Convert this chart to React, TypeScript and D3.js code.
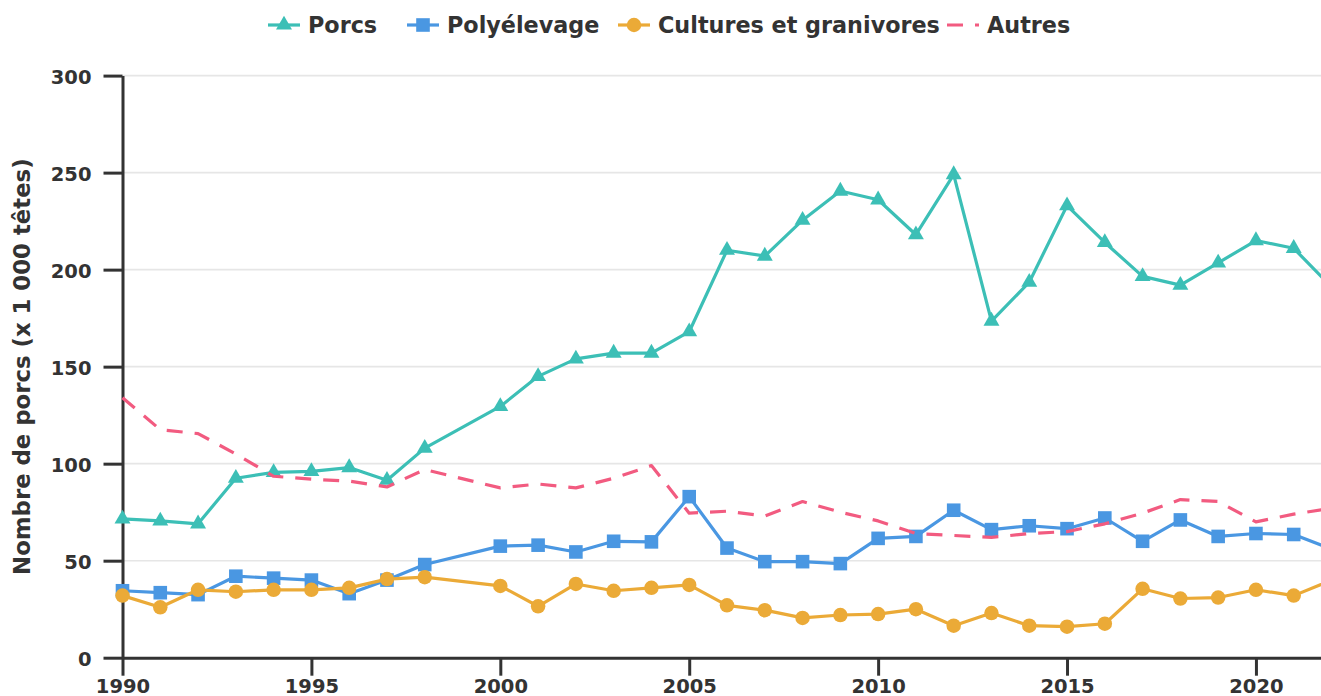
import React, { useEffect, useRef } from 'react';
import * as d3 from 'd3';

// data (1999 has no value)
const years = [
  1990, 1991, 1992, 1993, 1994, 1995, 1996, 1997, 1998,
  2000, 2001, 2002, 2003, 2004, 2005, 2006, 2007, 2008, 2009, 2010, 2011,
  2012, 2013, 2014, 2015, 2016, 2017, 2018, 2019, 2020, 2021, 2022,
];
const porcs = [
  71.5, 70.5, 69, 92.5, 95.5, 96, 98, 91.5, 108,
  129.5, 145, 154, 157, 157, 168, 210, 207, 225.5, 240.5, 236, 218,
  249, 173.5, 193.5, 233, 214, 196.5, 192, 203.5, 215, 211, 191,
];
const polyelevage = [
  34.5, 33.5, 32.5, 42, 41, 40, 33, 40, 48,
  57.5, 58, 54.5, 60, 59.7, 83, 56.5, 49.5, 49.5, 48.5, 61.5, 62.5,
  76, 66, 68, 66.5, 72, 60, 71, 62.5, 64, 63.5, 56,
];
const cultures = [
  32, 26, 35, 34, 35, 35, 36, 40.5, 41.5,
  37, 26.5, 38, 34.5, 36, 37.5, 27, 24.5, 20.5, 22, 22.5, 25,
  16.5, 23, 16.5, 16, 17.5, 35.5, 30.5, 31, 35, 32, 40,
];
const autres = [
  134, 117.5, 115.5, 105, 93.5, 92, 91, 88, 97,
  87.5, 89.5, 87.5, 92.5, 99, 74.5, 75.5, 73, 80.5, 75, 70.5, 64,
  63, 62, 64, 65, 69, 74.5, 81.5, 80.5, 70, 74, 77,
];
const seriesNames = ['Porcs', 'Polyélevage', 'Cultures et granivores', 'Autres'];
const yTicks = [0, 50, 100, 150, 200, 250, 300];
const xTicks = [1990, 1995, 2000, 2005, 2010, 2015, 2020];

const W = 1321;
const H = 696;
const FONT = '"DejaVu Sans", sans-serif';
const TEXT = '#333';

const App = () => {
  const svgRef = useRef<SVGSVGElement>(null);

  useEffect(() => {
    const svg = d3.select(svgRef.current);
    svg.selectAll('*').remove();

    const series = [
      { name: seriesNames[0], values: porcs, color: '#3cbfb6', symbol: d3.symbolTriangle, size: 110, dash: null },
      { name: seriesNames[1], values: polyelevage, color: '#4a97e2', symbol: d3.symbolSquare, size: 185, dash: null },
      { name: seriesNames[2], values: cultures, color: '#ebaa37', symbol: d3.symbolCircle, size: 165, dash: null },
      { name: seriesNames[3], values: autres, color: '#f25b80', symbol: null, size: 0, dash: '16,12' },
    ];

    const x = d3.scaleLinear().domain([1990, 2022]).range([122.5, 1331.5]);
    const y = d3.scaleLinear().domain([0, 300]).range([657.7, 75.6]);

    // gridlines
    svg.append('g')
      .selectAll('line')
      .data(yTicks.slice(1))
      .enter()
      .append('line')
      .attr('x1', x(1990))
      .attr('x2', W)
      .attr('y1', d => y(d))
      .attr('y2', d => y(d))
      .attr('stroke', '#e6e6e6')
      .attr('stroke-width', 1.6);

    // y axis
    const yAxis = svg.append('g').attr('transform', `translate(${x(1990)},0)`)
      .call(d3.axisLeft(y).tickValues(yTicks).tickSize(19).tickPadding(12).tickSizeOuter(0));
    yAxis.select('.domain').attr('stroke', TEXT).attr('stroke-width', 3);
    yAxis.selectAll('.tick line').attr('stroke', TEXT).attr('stroke-width', 3);
    yAxis.selectAll('.tick text')
      .attr('fill', TEXT)
      .attr('dy', '0.42em')
      .style('font-family', FONT)
      .style('font-weight', 'bold')
      .style('font-size', '19.5px');

    // x axis
    const xAxis = svg.append('g').attr('transform', `translate(0,${y(0)})`)
      .call(d3.axisBottom(x).tickValues(xTicks).tickFormat(d3.format('d')).tickSize(18).tickPadding(3).tickSizeOuter(0));
    xAxis.select('.domain').attr('stroke', TEXT).attr('stroke-width', 3);
    xAxis.selectAll('.tick line').attr('stroke', TEXT).attr('stroke-width', 3);
    xAxis.selectAll('.tick text')
      .attr('fill', TEXT)
      .style('font-family', FONT)
      .style('font-weight', 'bold')
      .style('font-size', '19.5px');

    // y axis title
    svg.append('text')
      .attr('transform', `translate(30,${(y(0) + y(300)) / 2}) rotate(-90)`)
      .attr('text-anchor', 'middle')
      .attr('fill', TEXT)
      .style('font-family', FONT)
      .style('font-weight', 'bold')
      .style('font-size', '22.8px')
      .text('Nombre de porcs (x 1 000 têtes)');

    // series
    series.forEach(s => {
      const pts = years.map((yr, i) => [yr, s.values[i]] as [number, number]);
      const line = d3.line<[number, number]>().x(d => x(d[0])).y(d => y(d[1]));
      const path = svg.append('path')
        .datum(pts)
        .attr('d', line)
        .attr('fill', 'none')
        .attr('stroke', s.color)
        .attr('stroke-width', 3.2)
        .attr('stroke-linejoin', 'round');
      if (s.dash) path.attr('stroke-dasharray', s.dash);
      if (s.symbol) {
        svg.append('g')
          .selectAll('path')
          .data(pts)
          .enter()
          .append('path')
          .attr('transform', d => `translate(${x(d[0])},${y(d[1])})`)
          .attr('d', d3.symbol().type(s.symbol).size(s.size))
          .attr('fill', s.color);
      }
    });

    // legend
    const legendX = [268, 407, 618, 947];
    const legendY = 25;
    const legend = svg.append('g');
    series.forEach((s, i) => {
      const g = legend.append('g').attr('transform', `translate(${legendX[i]},${legendY})`);
      const ln = g.append('line')
        .attr('x1', 0).attr('x2', 32)
        .attr('stroke', s.color)
        .attr('stroke-width', 3.2);
      if (s.dash) ln.attr('stroke-dasharray', s.dash);
      if (s.symbol) {
        g.append('path')
          .attr('transform', 'translate(16,0)')
          .attr('d', d3.symbol().type(s.symbol).size(s.size))
          .attr('fill', s.color);
      }
      g.append('text')
        .attr('x', 40)
        .attr('dy', '0.36em')
        .attr('fill', TEXT)
        .style('font-family', FONT)
        .style('font-weight', 'bold')
        .style('font-size', '22.3px')
        .text(s.name);
    });
  }, []);

  return (
    <div style={{ position: 'fixed', left: 0, top: 0, width: W, height: H, overflow: 'hidden', background: '#fff' }}>
      <svg ref={svgRef} width={W} height={H} style={{ display: 'block' }}></svg>
    </div>
  );
};

export default App;
